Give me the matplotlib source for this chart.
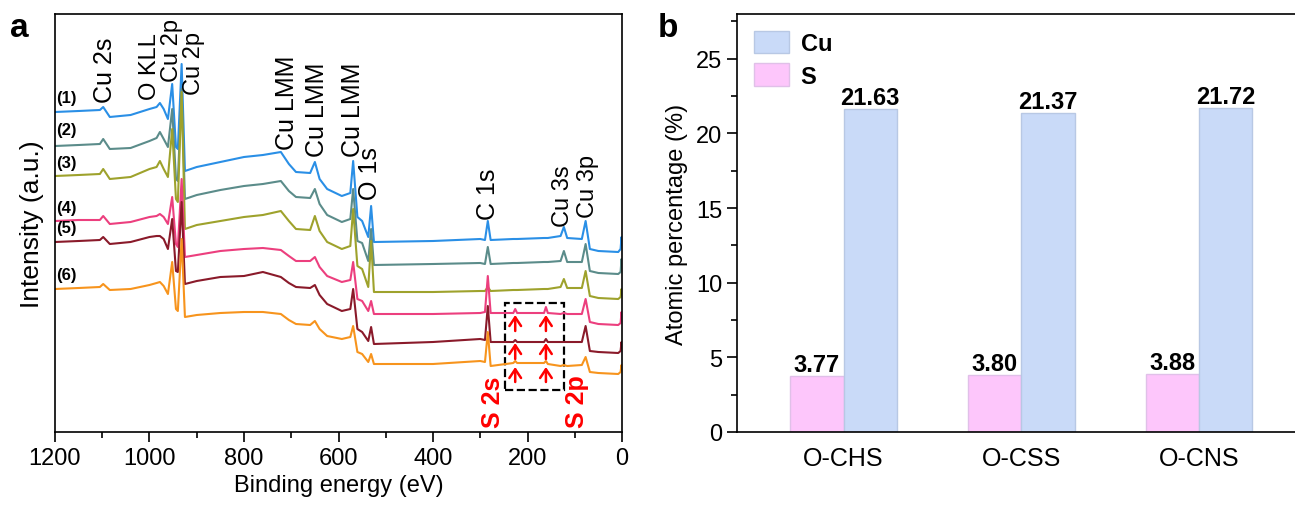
import numpy as np
import matplotlib.pyplot as plt
from matplotlib.patches import Rectangle

plt.rcParams['font.family'] = ['Liberation Sans', 'DejaVu Sans']

# ---- panel a: XPS survey spectra (binding energy breakpoints, a.u. intensity) ----
be = [1200, 1150, 1105, 1098, 1084, 1040, 1000, 985, 978, 970, 961, 952, 944, 940,
      932, 925, 900, 850, 800, 760, 722, 705, 690, 660, 650, 640, 624, 593, 575, 569,
      560, 550, 537, 531, 525, 400, 300, 290, 284, 278, 230, 226, 222, 165, 161, 157,
      130, 123, 116, 85, 77, 68, 50, 8, 3, 1, 0]

s1 = [320, 321, 322, 325, 315, 317, 323, 325, 329, 323, 313, 348, 285, 283,
      368, 261, 265, 270, 275, 277, 280, 268, 260, 259, 270, 253, 243, 236, 239, 271,
      215, 211, 195, 226, 190, 191, 193, 192, 211, 192, 193, 193, 193, 194, 194, 194,
      196, 205, 194, 193, 211, 183, 181, 180, 183, 195, 188]
s2 = [286, 287, 288, 293, 283, 284, 291, 294, 300, 293, 285, 323, 253, 251,
      343, 233, 237, 242, 246, 248, 251, 241, 235, 234, 243, 228, 217, 210, 213, 243,
      191, 189, 171, 203, 167, 168, 169, 168, 185, 168, 169, 169, 169, 170, 170, 170,
      171, 181, 170, 170, 188, 161, 159, 158, 160, 173, 165]
s3 = [256, 257, 258, 263, 253, 255, 263, 265, 271, 263, 255, 303, 233, 230,
      340, 203, 207, 211, 215, 217, 221, 211, 203, 202, 216, 201, 190, 183, 186, 223,
      166, 163, 145, 191, 140, 140, 141, 141, 145, 141, 142, 142, 142, 143, 143, 143,
      145, 153, 144, 144, 161, 136, 134, 133, 135, 143, 138]
s4 = [211, 212, 212, 216, 208, 210, 215, 216, 218, 215, 208, 235, 188, 185,
      253, 175, 177, 181, 183, 184, 182, 176, 171, 171, 175, 165, 156, 150, 152, 170,
      133, 131, 121, 131, 118, 118, 119, 120, 156, 119, 119, 123, 119, 119, 125, 119,
      118, 119, 118, 118, 133, 110, 108, 107, 109, 120, 115]
s5 = [190, 191, 192, 195, 188, 190, 195, 196, 196, 193, 183, 213, 161, 160,
      230, 148, 151, 155, 156, 160, 155, 149, 145, 144, 147, 137, 128, 121, 123, 143,
      103, 100, 91, 105, 88, 90, 93, 92, 126, 90, 90, 92, 90, 90, 93, 90,
      90, 90, 90, 90, 106, 81, 80, 79, 81, 90, 85]
s6 = [143, 144, 145, 148, 142, 143, 147, 149, 150, 146, 138, 170, 123, 121,
      193, 115, 117, 119, 120, 120, 118, 112, 108, 107, 111, 103, 96, 93, 95, 106,
      80, 78, 70, 78, 68, 68, 71, 70, 100, 66, 69, 71, 69, 69, 71, 68,
      66, 67, 66, 67, 75, 60, 59, 58, 60, 67, 63]

spectra = [s1, s2, s3, s4, s5, s6]
sample_ids = ['(1)', '(2)', '(3)', '(4)', '(5)', '(6)']
colors = ['#2a8fe6', '#5b8c8a', '#9ea22c', '#ec3f7e', '#8a1a2a', '#f7941d']
id_pos = [(1175, 321), (1175, 289), (1175, 256), (1175, 211), (1175, 191), (1175, 144)]

peak_names = ['Cu 2s', 'O KLL', 'Cu 2p', 'Cu 2p', 'Cu LMM', 'Cu LMM', 'Cu LMM',
              'O 1s', 'C 1s', 'Cu 3s', 'Cu 3p']
peak_x = [1094, 999, 952, 905, 709, 645, 569, 533, 284, 125, 72]
peak_y = [330, 333, 351, 338, 283, 276, 276, 233, 213, 206, 215]
peak_fs = [18, 17, 17, 17, 18, 18, 18, 18, 18, 17, 17]

s_peaks = [226, 161]

# ---- panel b: atomic percentage ----
samples = ['O-CHS', 'O-CSS', 'O-CNS']
s_pct = [3.77, 3.80, 3.88]
cu_pct = [21.63, 21.37, 21.72]

fig = plt.figure(figsize=(12.95, 5.1), dpi=100)
ax1 = fig.add_axes([55/1295, 77/510, 567/1295, 418/510])
ax2 = fig.add_axes([737/1295, 77/510, 0.45, 418/510])

for i, s in enumerate(spectra):
    ax1.plot(be, s, color=colors[i], lw=1.5)
    ax1.text(id_pos[i][0], id_pos[i][1] + 6, sample_ids[i], fontsize=12,
             fontweight='bold', ha='center', va='bottom')

for name, x, y, fs in zip(peak_names, peak_x, peak_y, peak_fs):
    ax1.text(x, y, name, rotation=90, ha='center', va='bottom', fontsize=fs)

# S signals
ax1.add_patch(Rectangle((248, 42), -125, 87, fill=False, ls='--', lw=1.6, ec='black'))
for x in s_peaks:
    for tail, head in [(101, 117), (73, 89), (50, 65)]:
        ax1.annotate('', xy=(x, head), xytext=(x, tail),
                     arrowprops=dict(arrowstyle='->,head_length=0.45,head_width=0.3',
                                     color='red', lw=1.8, mutation_scale=14,
                                     shrinkA=0, shrinkB=0))
ax1.text(273, 31, 'S 2s', rotation=90, color='red', fontweight='bold',
         fontsize=18, ha='center', va='center')
ax1.text(96, 31, 'S 2p', rotation=90, color='red', fontweight='bold',
         fontsize=18, ha='center', va='center')

ax1.set_xlim(1200, 0)
ax1.set_ylim(0, 418)
ax1.set_yticks([])
ax1.set_xticks(np.arange(0, 1201, 200))
ax1.set_xticks(np.arange(100, 1200, 200), minor=True)
ax1.tick_params(axis='x', which='major', direction='out', length=7, width=1.2, labelsize=17)
ax1.tick_params(axis='x', which='minor', direction='out', length=4, width=1.2)
ax1.set_xlabel('Binding energy (eV)', fontsize=17)
ax1.set_ylabel('Intensity (a.u.)', fontsize=19, labelpad=8)
for sp in ax1.spines.values():
    sp.set_linewidth(1.2)

x = np.arange(len(samples))
w = 0.3
b_s = ax2.bar(x - w/2, s_pct, w, color='#fdc6fb', edgecolor='#e0c0e8', lw=1, label='S')
b_cu = ax2.bar(x + w/2, cu_pct, w, color='#c9daf8', edgecolor='#b8c8e4', lw=1, label='Cu')
ax2.bar_label(b_s, fmt='%.2f', fontsize=17, fontweight='bold', padding=0)
ax2.bar_label(b_cu, fmt='%.2f', fontsize=17, fontweight='bold', padding=0)

ax2.set_xlim(-0.6, 2.68)
ax2.set_ylim(0, 28)
ax2.set_xticks(x)
ax2.set_xticklabels(samples)
ax2.tick_params(axis='x', length=0, labelsize=18, pad=10)
ax2.set_yticks(np.arange(0, 26, 5))
ax2.set_yticks(np.arange(2.5, 28, 5), minor=True)
ax2.tick_params(axis='y', which='major', direction='out', length=7, width=1.2, labelsize=17)
ax2.tick_params(axis='y', which='minor', direction='out', length=4, width=1.2)
ax2.set_ylabel('Atomic percentage (%)', fontsize=17, labelpad=6)
for sp in ax2.spines.values():
    sp.set_linewidth(1.2)

leg = ax2.legend(handles=[b_cu, b_s], loc='upper left', frameon=False,
                 prop={'size': 17, 'weight': 'bold'}, handlelength=1.5,
                 handleheight=1.1, borderaxespad=0.3, labelspacing=0.35,
                 handletextpad=0.5, bbox_to_anchor=(0.0, 1.0))

fig.text(0.008, 0.975, 'a', fontsize=24, fontweight='bold', va='top')
fig.text(0.508, 0.975, 'b', fontsize=24, fontweight='bold', va='top')

plt.savefig('out.png', dpi=100)
